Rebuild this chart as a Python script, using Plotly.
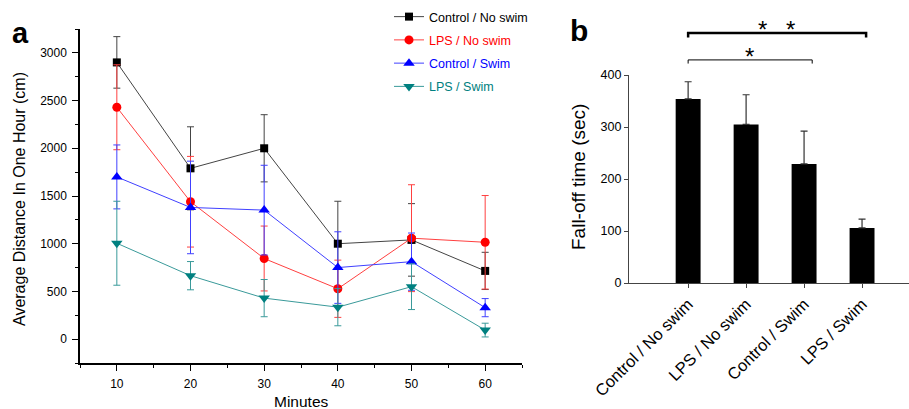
import plotly.graph_objects as go

# ---------------- data ----------------
minutes = [10, 20, 30, 40, 50, 60]
series_names = ["Control / No swim", "LPS / No swim", "Control / Swim", "LPS / Swim"]
ctrl_noswim = [2900, 1790, 2000, 1000, 1040, 715]
ctrl_noswim_err = [270, 435, 352, 445, 380, 195]
lps_noswim = [2430, 1440, 845, 528, 1058, 1015]
lps_noswim_err = [445, 475, 340, 300, 560, 490]
ctrl_swim = [1700, 1380, 1352, 750, 812, 330]
ctrl_swim_err = [335, 485, 470, 375, 300, 95]
lps_swim = [1005, 665, 430, 335, 550, 95]
lps_swim_err = [440, 148, 195, 195, 240, 72]

groups = ["Control / No swim", "LPS / No swim", "Control / Swim", "LPS / Swim"]
falloff = [354, 305, 229, 106]
falloff_err = [33, 57, 63, 17]

# ---------------- style ----------------
W, H = 909, 409
FONT = "Arial, Liberation Sans, sans-serif"
colors = ["#000000", "#ff0000", "#0000ff", "#008080"]
line_colors = ["#444444", "#ff4040", "#4040ff", "#3a9a9a"]
symbols = ["square", "circle", "triangle-up", "triangle-down"]
sizes = [8, 9, 10, 10]


def px_x(p):
    return p / W


def px_y(p):
    return 1 - p / H


a_dom_x = [px_x(80), px_x(522)]
a_dom_y = [px_y(363), px_y(29)]
b_dom_x = [px_x(629), 1.0]
b_dom_y = [px_y(283), px_y(75)]
b_xrange = [-1.02, 3.81]
b_yrange = [0, 400]

fig = go.Figure()

vals = [ctrl_noswim, lps_noswim, ctrl_swim, lps_swim]
errs = [ctrl_noswim_err, lps_noswim_err, ctrl_swim_err, lps_swim_err]
for i, name in enumerate(series_names):
    fig.add_trace(go.Scatter(
        x=minutes, y=vals[i],
        mode="lines+markers",
        name=f"<span style='color:{colors[i]}'>{name}</span>",
        legendgroup=f"g{i}",
        line=dict(color=line_colors[i], width=1),
        marker=dict(symbol=symbols[i], size=sizes[i], color=colors[i], line=dict(width=0)),
        error_y=dict(type="data", array=errs[i], visible=True, color=line_colors[i],
                     thickness=1, width=3.5),
        xaxis="x", yaxis="y",
    ))

fig.add_trace(go.Bar(
    x=list(range(len(groups))), y=falloff,
    width=0.43,
    marker=dict(color="#000000", line=dict(width=0)),
    error_y=dict(type="data", array=falloff_err, arrayminus=[0] * len(falloff_err),
                 symmetric=False, visible=True, color="#333333",
                 thickness=1.2, width=3.5),
    showlegend=False,
    xaxis="x2", yaxis="y2",
))

axis_font = dict(family=FONT, size=12, color="#000000")

fig.update_layout(
    width=W, height=H,
    margin=dict(l=0, r=0, t=0, b=0, autoexpand=False),
    paper_bgcolor="white", plot_bgcolor="white",
    font=dict(family=FONT, size=12, color="#000000"),
    showlegend=True,
    legend=dict(x=px_x(389), y=px_y(2), xanchor="left", yanchor="top",
                font=dict(family=FONT, size=12.5), tracegroupgap=4,
                bgcolor="rgba(0,0,0,0)"),
    xaxis=dict(domain=a_dom_x, range=[5, 65], tick0=0, dtick=10,
               ticks="outside", ticklen=6, tickwidth=1.2, tickcolor="#000",
               minor=dict(dtick=5, ticks="outside", ticklen=3, tickwidth=1.2, tickcolor="#000"),
               showline=True, linecolor="#000", linewidth=1.5,
               showgrid=False, zeroline=False, tickfont=axis_font,
               ticklabelstandoff=3, anchor="y", automargin=False),
    yaxis=dict(domain=a_dom_y, range=[-250, 3250], tick0=0, dtick=500,
               ticks="outside", ticklen=6, tickwidth=1.2, tickcolor="#000",
               minor=dict(dtick=250, ticks="outside", ticklen=3, tickwidth=1.2, tickcolor="#000"),
               showline=True, linecolor="#000", linewidth=1.5,
               showgrid=False, zeroline=False, tickfont=axis_font,
               ticklabelstandoff=3, anchor="x", automargin=False),
    xaxis2=dict(domain=b_dom_x, range=b_xrange,
                tickmode="array", tickvals=list(range(len(groups))), ticktext=groups,
                tickangle=-45, ticks="outside", ticklen=4, tickcolor="#444",
                showline=True, linecolor="#444", linewidth=1.2,
                showgrid=False, zeroline=False,
                tickfont=dict(family=FONT, size=16.5, color="#000"), anchor="y2",
                automargin=False),
    yaxis2=dict(domain=b_dom_y, range=b_yrange, tick0=0, dtick=100,
                ticks="outside", ticklen=4, tickcolor="#444",
                showline=True, linecolor="#444", linewidth=1.2,
                showgrid=False, zeroline=False,
                tickfont=dict(family=FONT, size=12.5, color="#000"), anchor="x2",
                automargin=False),
)

# ---------------- text annotations ----------------
ann = [
    dict(text="<b>a</b>", x=px_x(20), y=px_y(33), font=dict(size=29)),
    dict(text="<b>b</b>", x=px_x(579), y=px_y(31), font=dict(size=30)),
    dict(text="Average Distance In One Hour (cm)", x=px_x(19), y=px_y(199),
         textangle=-90, font=dict(size=16)),
    dict(text="Minutes", x=px_x(301), y=px_y(401), font=dict(size=15.5)),
    dict(text="Fall-off time (sec)", x=px_x(578), y=px_y(177),
         textangle=-90, font=dict(size=19)),
]
for a in ann:
    fig.add_annotation(xref="paper", yref="paper", showarrow=False,
                       xanchor="center", yanchor="middle",
                       font=dict(family=FONT, color="#000", size=a["font"]["size"]),
                       text=a["text"], x=a["x"], y=a["y"],
                       textangle=a.get("textangle", 0))


# ---------------- significance brackets (panel b data -> paper) ----------------
def bx(c):
    f = (c - b_xrange[0]) / (b_xrange[1] - b_xrange[0])
    return b_dom_x[0] + f * (b_dom_x[1] - b_dom_x[0])


def by(v):
    f = (v - b_yrange[0]) / (b_yrange[1] - b_yrange[0])
    return b_dom_y[0] + f * (b_dom_y[1] - b_dom_y[0])


brackets = [
    dict(left=0, right=3, pad=0.07, level=481, drop=9, width=2.5, stars=[1.29, 1.77]),
    dict(left=0, right=2, pad=0.14, level=429, drop=7, width=1.0, stars=[1.05]),
]
for b in brackets:
    x0, x1 = bx(b["left"]), bx(b["right"] + b["pad"])
    ytop, ybot = by(b["level"]), by(b["level"] - b["drop"])
    path = f"M{x0},{ybot} L{x0},{ytop} L{x1},{ytop} L{x1},{ybot}"
    fig.add_shape(type="path", path=path, xref="paper", yref="paper",
                  line=dict(color="#000", width=b["width"]))
    for s in b["stars"]:
        fig.add_annotation(xref="paper", yref="paper", x=bx(s), y=by(b["level"] - 23),
                           text="*", showarrow=False, xanchor="center", yanchor="bottom",
                           font=dict(family=FONT, size=24, color="#000"))

fig.write_html("out.html", config={"displayModeBar": False},
               post_script="document.body.style.margin='0px';")
